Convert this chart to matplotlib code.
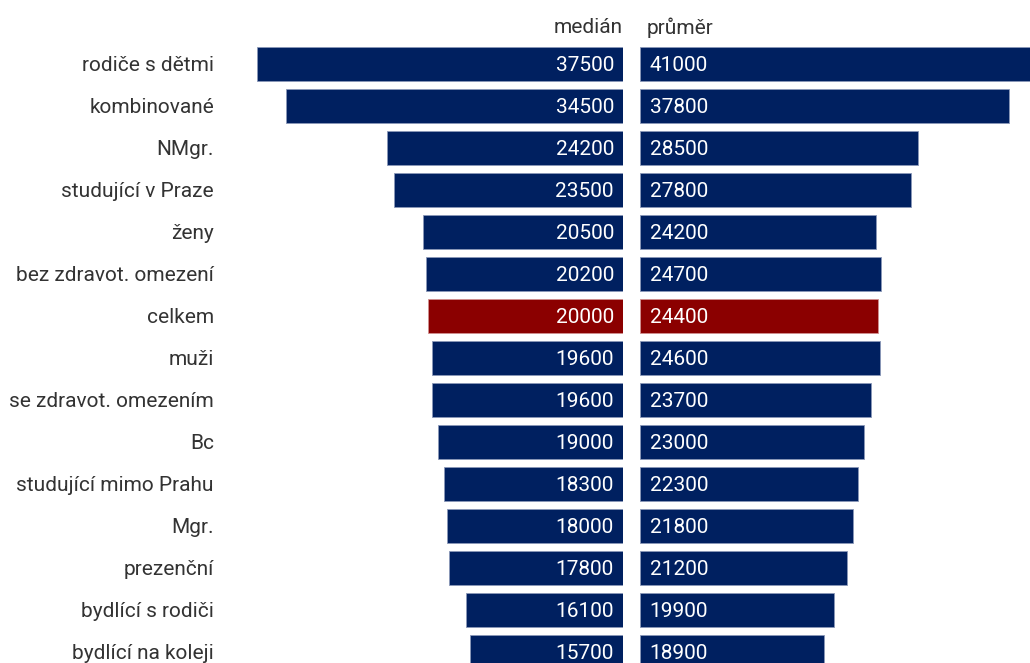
import matplotlib.pyplot as plt

plt.rcParams['font.family'] = ['Roboto', 'DejaVu Sans']

categories = ['rodiče s dětmi', 'kombinované', 'NMgr.', 'studující v Praze', 'ženy',
              'bez zdravot. omezení', 'celkem', 'muži', 'se zdravot. omezením', 'Bc',
              'studující mimo Prahu', 'Mgr.', 'prezenční', 'bydlící s rodiči',
              'bydlící na koleji']
median = [37500, 34500, 24200, 23500, 20500, 20200, 20000, 19600, 19600, 19000,
          18300, 18000, 17800, 16100, 15700]
mean = [41000, 37800, 28500, 27800, 24200, 24700, 24400, 24600, 23700, 23000,
        22300, 21800, 21200, 19900, 18900]
highlight = 'celkem'

navy = '#002060'
red = '#8b0000'
text_col = '#333333'

W, H = 1030, 663
px_per_unit = 0.00976
mid_left = 623   # right edge of median panel, px
mid_right = 640  # left edge of mean panel, px
row0, row_step = 64, 42

fig = plt.figure(figsize=(W / 100, H / 100), dpi=100)
ax_m = fig.add_axes([0, 0, mid_left / W, 1])
ax_p = fig.add_axes([mid_right / W, 0, (W - mid_right) / W, 1])

y_top = -row0 / row_step
y_bot = (H - row0) / row_step
ax_m.set_xlim(mid_left / px_per_unit, 0)
ax_p.set_xlim(0, (W - mid_right) / px_per_unit)
for ax in (ax_m, ax_p):
    ax.set_ylim(y_bot, y_top)
    ax.axis('off')

ys = list(range(len(categories)))
colors = [red if c == highlight else navy for c in categories]
edges = ['#d09090' if c == highlight else '#8a98b8' for c in categories]
ax_m.barh(ys, median, height=34 / row_step, color=colors, edgecolor=edges, linewidth=0.6)
ax_p.barh(ys, mean, height=34 / row_step, color=colors, edgecolor=edges, linewidth=0.6)

fs = 15
dy = -1.2
for y, cat, m, p in zip(ys, categories, median, mean):
    ax_m.annotate(str(m), (0, y), xytext=(-6.5, dy), textcoords='offset points',
                  ha='right', va='center', color='white', fontsize=fs)
    ax_p.annotate(str(p), (0, y), xytext=(7, dy), textcoords='offset points',
                  ha='left', va='center', color='white', fontsize=fs)
    ax_m.annotate(cat, ((mid_left - 214) / px_per_unit, y), xytext=(0, dy),
                  textcoords='offset points', ha='right', va='center',
                  color=text_col, fontsize=fs)

head_y = (26 - row0) / row_step
ax_m.annotate('medián', (0, head_y), xytext=(0, dy), textcoords='offset points',
              ha='right', va='center', color=text_col, fontsize=fs)
ax_p.annotate('průměr', (0, head_y), xytext=(4.5, dy), textcoords='offset points',
              ha='left', va='center', color=text_col, fontsize=fs)

fig.savefig('out.png', dpi=100)
